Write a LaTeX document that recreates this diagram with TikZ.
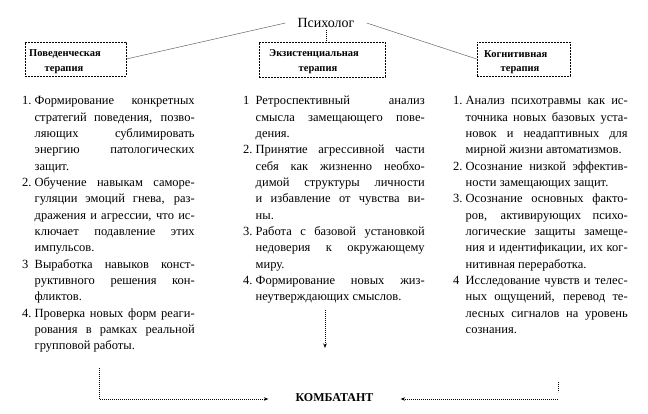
\documentclass[tikz,border=0pt]{standalone}
\usepackage{fontspec}
\setmainfont{Liberation Serif}
\usetikzlibrary{arrows.meta}
\hbadness=10000
\hfuzz=50pt
\newlength\colw
\newcommand\Ln[2]{\hbox{\hbox to 12.5pt{#1\hfil}\hbox to \colw{#2}}}
\newcommand\Lf[2]{\hbox{\hbox to 12.5pt{#1\hfil}\hbox to \colw{#2\hfil}}}
\newcommand\colbox[2]{\vtop{\setlength\colw{#1}#2}}
\tikzset{
  boxdash/.style={draw, dash pattern=on 1.6pt off 1.4pt, line width=0.7pt, inner sep=0pt},
  boxtxt/.style={font=\fontsize{10.5}{12}\selectfont\bfseries, inner sep=0pt},
  coltxt/.style={font=\fontsize{12.5}{16.33}\selectfont, inner sep=0pt, anchor=base west},
  thinline/.style={draw=black!60, line width=0.5pt},
  dotline/.style={dash pattern=on 0.9pt off 1.1pt, line width=0.7pt},
  dotarrow/.style={dotline, -{Stealth[length=4.5pt,width=3.5pt]}}
}
\begin{document}
\begin{tikzpicture}[x=1pt,y=-1pt]
\useasboundingbox (0,0) rectangle (648,414);

% top
\node[font=\fontsize{14}{16}\selectfont, inner xsep=12pt, inner ysep=2pt] (psy) at (326,23) {Психолог};

\node[boxdash, minimum width=101pt, minimum height=34pt] (lbox) at (75.5,59) {};
\node[boxdash, minimum width=126pt, minimum height=35pt] (mbox) at (322,59.5) {};
\node[boxdash, minimum width=93pt, minimum height=34pt] (rbox) at (523.5,59) {};

\node[boxtxt, anchor=west] (lt1) at (29,54) {Поведенческая};
\node[boxtxt] (lt2) at (64,70) {терапия};
\node[boxtxt] (mt1) at (314,54) {Экзистенциальная};
\node[boxtxt] (mt2) at (318,70) {терапия};
\node[boxtxt, anchor=west] (rt1) at (484,54) {Когнитивная};
\node[boxtxt] (rt2) at (520,70) {терапия};

\draw[thinline] (psy.west) -- (lbox.east);
\draw[thinline] (psy.east) -- (rbox.west);
\draw[dotline] (psy.south) -- (psy.south |- mbox.north);

% columns
\node[coltxt] (c1) at (22,105) {\colbox{160pt}{%
\Ln{1.}{Формирование конкретных}
\Ln{}{стратегий поведения, позво-}
\Ln{}{ляющих сублимировать}
\Ln{}{энергию патологических}
\Lf{}{защит.}
\Ln{2.}{Обучение навыкам саморе-}
\Ln{}{гуляции эмоций гнева, раз-}
\Ln{}{дражения и агрессии, что ис-}
\Ln{}{ключает подавление этих}
\Lf{}{импульсов.}
\Ln{3}{Выработка навыков конст-}
\Ln{}{руктивного решения кон-}
\Lf{}{фликтов.}
\Ln{4.}{Проверка новых форм реаги-}
\Ln{}{рования в рамках реальной}
\Lf{}{групповой работы.}}};

\node[coltxt] (c2) at (243,105) {\colbox{169pt}{%
\Ln{1}{Ретроспективный анализ}
\Ln{}{смысла замещающего пове-}
\Lf{}{дения.}
\Ln{2.}{Принятие агрессивной части}
\Ln{}{себя как жизненно необхо-}
\Ln{}{димой структуры личности}
\Ln{}{и избавление от чувства ви-}
\Lf{}{ны.}
\Ln{3.}{Работа с базовой установкой}
\Ln{}{недоверия к окружающему}
\Lf{}{миру.}
\Ln{4.}{Формирование новых жиз-}
\Lf{}{неутверждающих смыслов.}}};

\node[coltxt] (c3) at (453,105) {\colbox{162pt}{%
\Ln{1.}{Анализ психотравмы как ис-}
\Ln{}{точника новых базовых уста-}
\Ln{}{новок и неадаптивных для}
\Lf{}{мирной жизни автоматизмов.}
\Ln{2.}{Осознание низкой эффектив-}
\Lf{}{ности замещающих защит.}
\Ln{3.}{Осознание основных факто-}
\Ln{}{ров, активирующих психо-}
\Ln{}{логические защиты замеще-}
\Ln{}{ния и идентификации, их ког-}
\Lf{}{нитивная переработка.}
\Ln{4}{Исследование чувств и телес-}
\Ln{}{ных ощущений, перевод те-}
\Ln{}{лесных сигналов на уровень}
\Lf{}{сознания.}}};

% bottom
\node[font=\fontsize{12}{14}\selectfont\bfseries, inner xsep=27pt, inner ysep=2pt] (komb) at (334.5,398) {КОМБАТАНТ};

\coordinate (ma) at (325,310);
\coordinate (mb) at (325,348);
\draw[dotarrow] (ma) -- (mb);

\coordinate (bl) at (99,368);
\coordinate (blc) at (99,399);
\draw[dotarrow] (bl) -- (blc) -- (blc -| komb.west);

\coordinate (rt) at (558,382);
\coordinate (rb) at (558,392);
\coordinate (br) at (558,399);
\draw[dotline] (rt) -- (rb);
\draw[dotarrow] (br) -- (br -| komb.east);
\end{tikzpicture}
\end{document}
